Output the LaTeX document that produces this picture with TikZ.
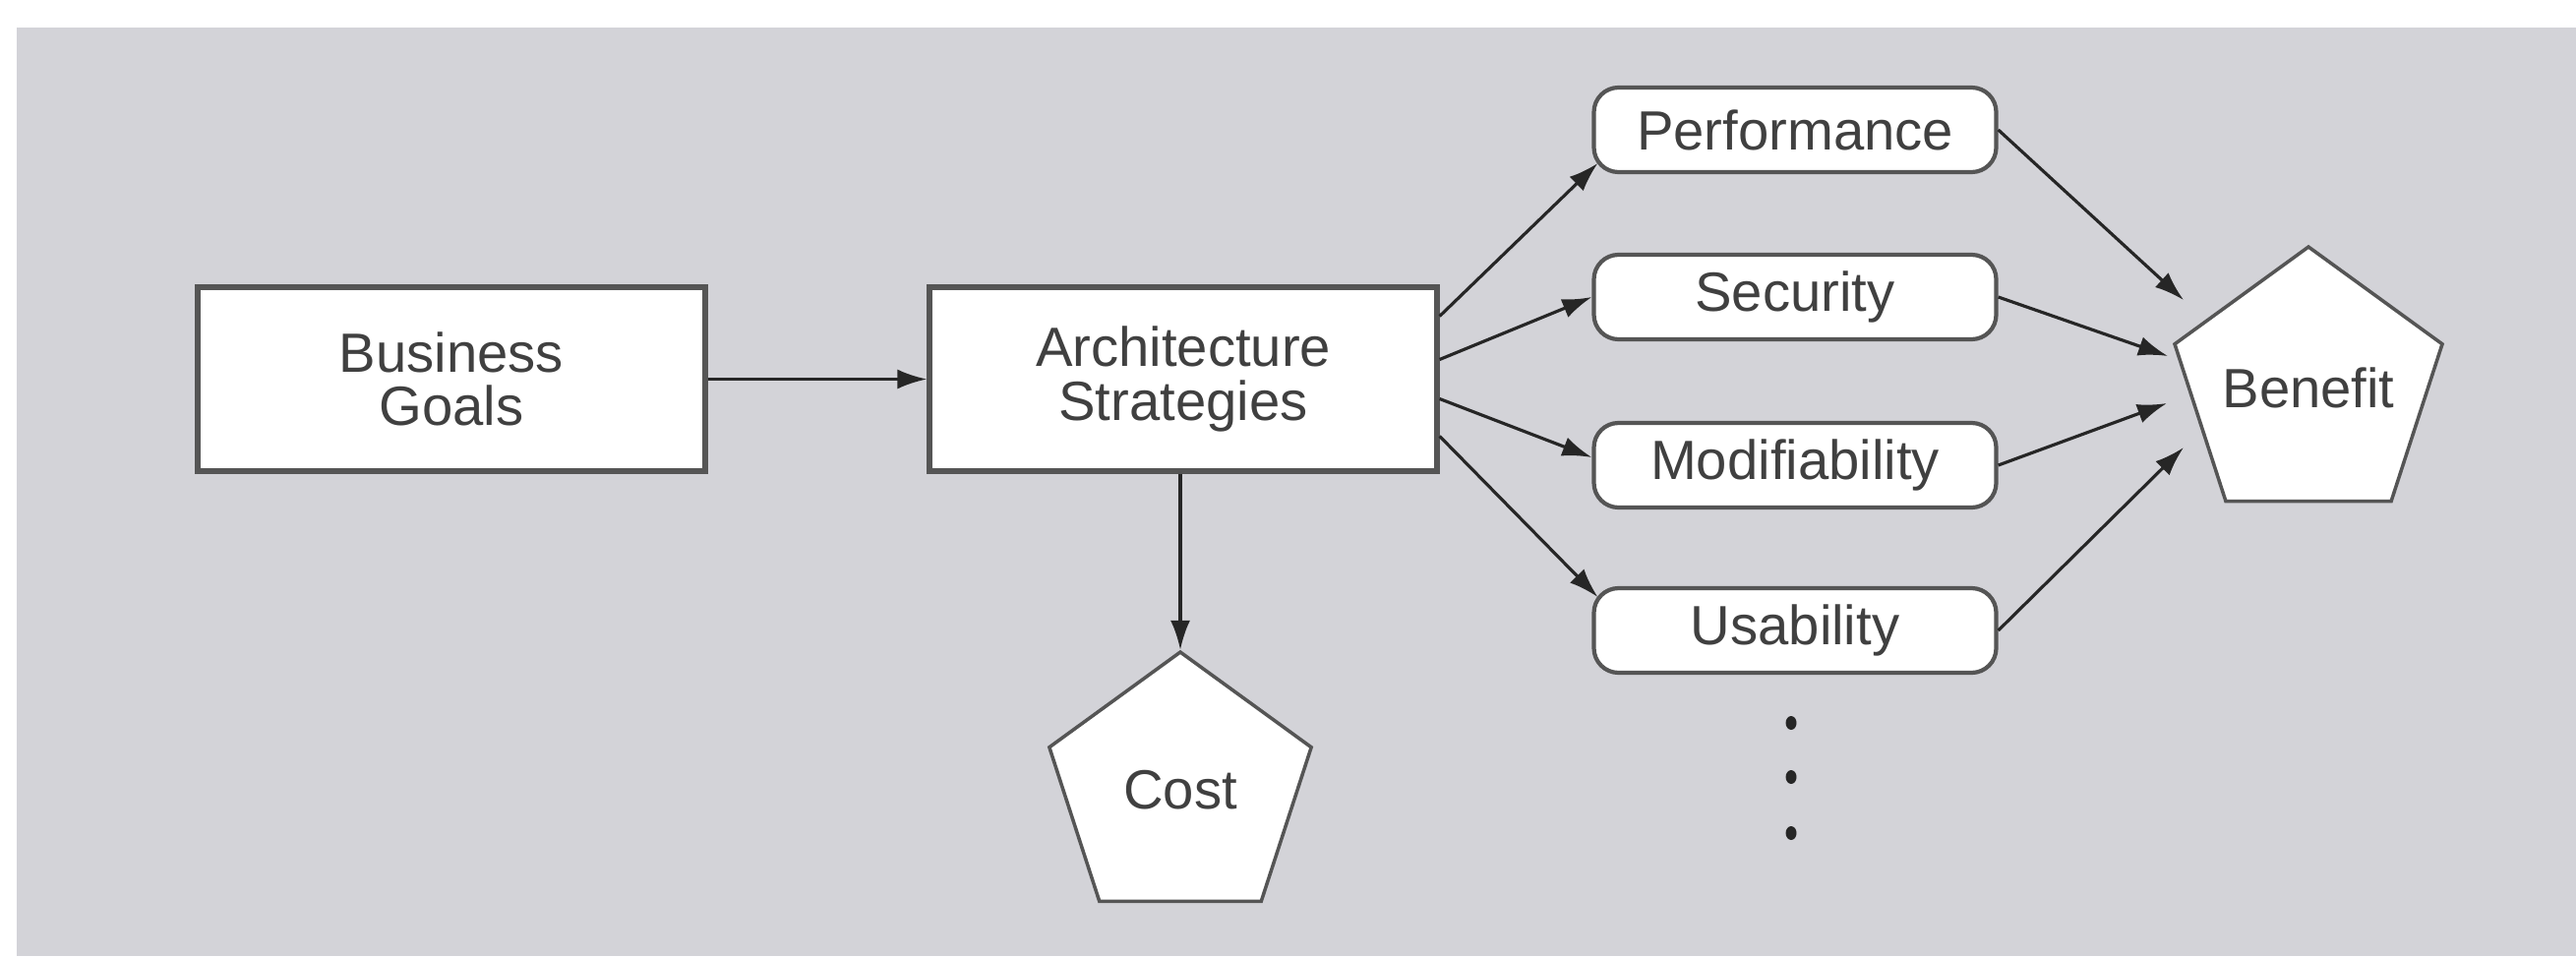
\documentclass[tikz,border=0pt]{standalone}
\usepackage{fontspec}
\setmainfont{Liberation Sans}
\usepackage{xcolor}
\usepackage{tikz}
\usetikzlibrary{arrows.meta,calc,positioning,shapes.geometric}
\definecolor{panelgray}{HTML}{D3D3D8}
\definecolor{inkgray}{HTML}{404040}
\definecolor{edgegray}{HTML}{555555}

\begin{document}
\begin{tikzpicture}[x=1cm,y=1cm,
  stepbox/.style={draw=edgegray,line width=1.5pt,fill=white,
    minimum width=5.16cm,minimum height=1.87cm,align=center,
    text=inkgray,font=\fontsize{16}{15.5}\selectfont},
  qualbox/.style={draw=edgegray,line width=1.2pt,fill=white,rounded corners=0.25cm,
    minimum width=4.09cm,minimum height=0.86cm,
    text=inkgray,font=\fontsize{16}{15.5}\selectfont},
  valuepent/.style={draw=edgegray,line width=1pt,fill=white,
    regular polygon,regular polygon sides=5,inner sep=-6pt,
    text=inkgray,font=\fontsize{16}{15.5}\selectfont},
  link/.style={-{Latex[length=3mm,width=2mm]},black!85,line width=0.9pt}]
% Page 26.19 x 9.72 cm = 2619 x 972 px; 1 cm = 100 px.

% ── Backdrop ────────────────────────────────────────────────────
\useasboundingbox (0,0) rectangle (26.19,9.72);
\fill[white] (0,0) rectangle (26.19,9.72);
\fill[panelgray] (0.17,0) rectangle (26.19,9.44);

% ── Main chain ──────────────────────────────────────────────────
\node[stepbox] (goals) at (4.59,5.865) {Business\\Goals};
\node[stepbox] (strat) at (12.03,5.865) {Architecture\\Strategies};
\node[valuepent,minimum size=2.80cm] (cost) at (12.00,1.69) {Cost};

% ── Quality attributes ──────────────────────────────────────────
\node[qualbox] (perf) at (18.25,8.40) {Performance};
\node[qualbox] (secu) at (18.25,6.70) {Security};
\node[qualbox] (modi) at (18.25,4.99) {Modifiability};
\node[qualbox] (usab) at (18.25,3.31) {Usability};
\node[valuepent,minimum size=2.86cm] (benefit) at (23.47,5.78) {Benefit};

% Ellipsis below the attribute column
\fill[black!85] (18.21,2.37) ellipse (0.055 and 0.07);
\fill[black!85] (18.21,1.82) ellipse (0.055 and 0.07);
\fill[black!85] (18.21,1.25) ellipse (0.055 and 0.07);

% ── Connectors ──────────────────────────────────────────────────
\draw[link] (goals.east) -- (strat.west);
\draw[link] (strat.south -| cost.north) -- (cost.north);
% fan out to the attributes
\draw[link] ([yshift=0.64cm]strat.east) -- ([shift={(0.06,-0.34)}]perf.west);
\draw[link] ([yshift=0.20cm]strat.east) -- (secu.west);
\draw[link] ([yshift=-0.20cm]strat.east) -- ([yshift=0.08cm]modi.west);
\draw[link] ([yshift=-0.58cm]strat.east) -- ([shift={(0.06,0.34)}]usab.west);
% fan in to the benefit
\draw[link] (perf.east) -- ([shift={(-1.27,0.89)}]benefit.center);
\draw[link] (secu.east) -- ([shift={(-1.43,0.32)}]benefit.center);
\draw[link] (modi.east) -- ([shift={(-1.44,-0.16)}]benefit.center);
\draw[link] (usab.east) -- ([shift={(-1.27,-0.61)}]benefit.center);
\end{tikzpicture}
\end{document}
